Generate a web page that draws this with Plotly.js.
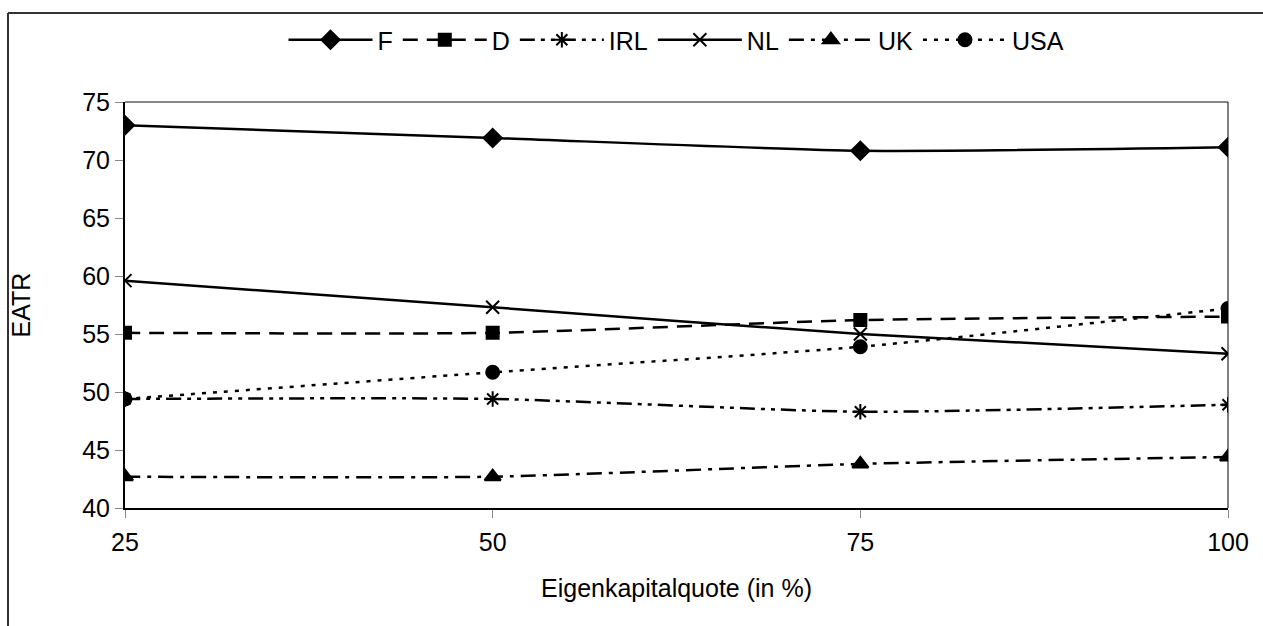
<!DOCTYPE html>
<html>
<head>
<meta charset="utf-8">
<script src="https://cdn.plot.ly/plotly-3.0.1.min.js"></script>
<style>html,body{margin:0;padding:0;background:#fff;}#chart{width:1263px;height:626px;}</style>
</head>
<body>
<div id="chart"></div>
<script>
const xValues = [25, 50, 75, 100];
const seriesNames = ["F", "D", "IRL", "NL", "UK", "USA"];
const valF   = [73.0, 71.9, 70.8, 71.1];
const valD   = [55.1, 55.1, 56.2, 56.5];
const valIRL = [49.4, 49.4, 48.3, 48.9];
const valNL  = [59.6, 57.3, 55.0, 53.3];
const valUK  = [42.7, 42.7, 43.8, 44.4];
const valUSA = [49.4, 51.7, 53.9, 57.2];
const yTicks = [40, 45, 50, 55, 60, 65, 70, 75];

const FONT = "Liberation Sans, Arial, sans-serif";
const styles = [
  {dash: "solid", symbol: "diamond", size: 14},
  {dash: "15px,9px", symbol: "square", size: 12},
  {dash: "15px,6px,4px,6px,4px,6px", symbol: "asterisk-open", size: 13},
  {dash: "solid", symbol: "x-thin-open", size: 13},
  {dash: "15px,7px,4px,7px", symbol: "triangle-up", size: 14},
  {dash: "4px,7px", symbol: "circle", size: 13}
];
const allVals = [valF, valD, valIRL, valNL, valUK, valUSA];

const traces = seriesNames.map((n, i) => ({
  type: "scatter",
  mode: "lines+markers",
  name: n,
  x: xValues,
  y: allVals[i],
  line: {color: "#000", width: 2.5, dash: styles[i].dash, shape: "spline", smoothing: 0.6},
  marker: {color: "#000", symbol: styles[i].symbol, size: styles[i].size,
           line: {color: "#000", width: 2}}
}));

const L = 125, R = 1228, T = 102, B = 508;
const px = v => (v - L) / (R - L);
const py = v => (B - v) / (B - T);

const layout = {
  width: 1263, height: 626,
  margin: {l: L, r: 1263 - R, t: T, b: 626 - B},
  paper_bgcolor: "#fff", plot_bgcolor: "#fff",
  font: {family: FONT, size: 24, color: "#000"},
  showlegend: true,
  legend: {orientation: "h", x: 0.5, xanchor: "center", y: py(40), yanchor: "middle",
           font: {family: FONT, size: 25, color: "#000"}, itemwidth: 84, tracegroupgap: 0,
           bgcolor: "rgba(0,0,0,0)"},
  xaxis: {
    range: [25, 100], tickvals: xValues, ticktext: xValues.map(String),
    showgrid: false, zeroline: false, showline: true, linecolor: "#000", linewidth: 2,
    ticks: "outside", ticklen: 8, tickcolor: "#888", tickwidth: 1,
    tickfont: {family: FONT, size: 25}, ticklabelstandoff: 3,
    title: {text: "Eigenkapitalquote (in %)", font: {family: FONT, size: 25}, standoff: 24}
  },
  yaxis: {
    range: [40, 75], tickvals: yTicks, ticktext: yTicks.map(String),
    showgrid: false, zeroline: false, showline: true, linecolor: "#000", linewidth: 2,
    ticks: "outside", ticklen: 8, tickcolor: "#888", tickwidth: 1,
    tickfont: {family: FONT, size: 25},
    title: {text: "EATR", font: {family: FONT, size: 25}, standoff: 44}
  },
  shapes: [
    {type: "line", xref: "paper", yref: "paper", x0: 0, x1: 1, y0: 1, y1: 1, line: {color: "#888", width: 2}},
    {type: "line", xref: "paper", yref: "paper", x0: 1, x1: 1, y0: 0, y1: 1, line: {color: "#000", width: 1}},
    {type: "line", xref: "paper", yref: "paper", x0: px(8), x1: px(1263), y0: py(13), y1: py(13), line: {color: "#333", width: 2}},
    {type: "line", xref: "paper", yref: "paper", x0: px(8), x1: px(8), y0: py(13), y1: py(626), line: {color: "#333", width: 2}}
  ]
};

Plotly.newPlot("chart", traces, layout, {displayModeBar: false, staticPlot: true});
</script>
</body>
</html>
